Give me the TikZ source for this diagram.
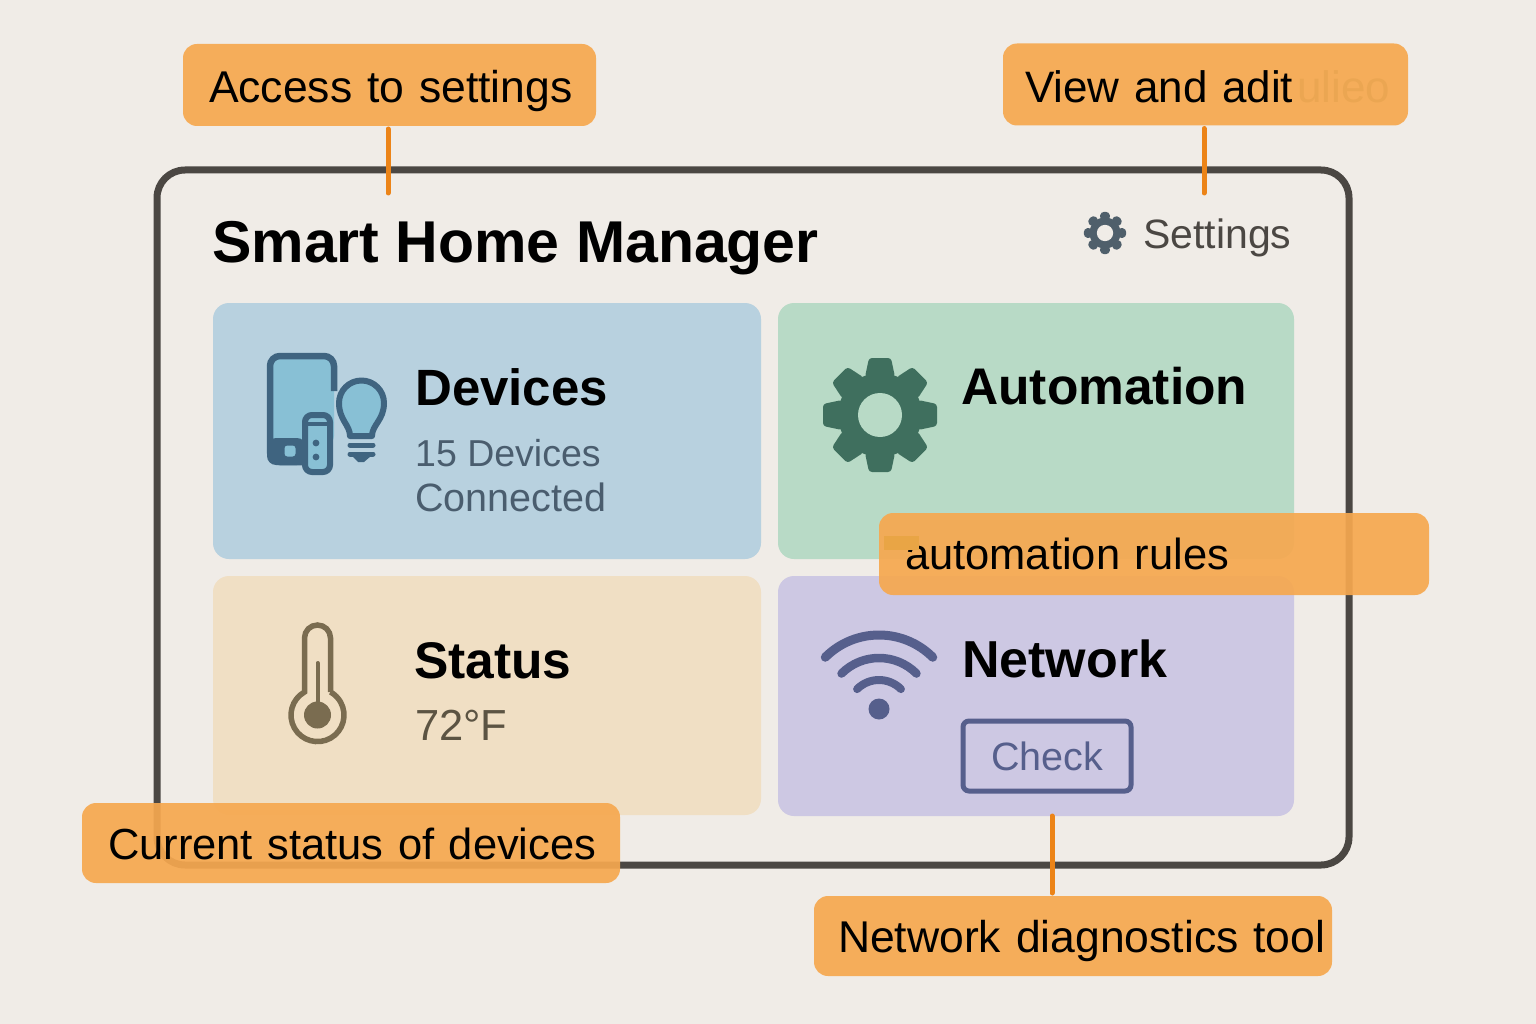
\documentclass[tikz,border=0pt]{standalone}
\usepackage{fontspec}
\setmainfont{Liberation Sans}
\usepackage{xcolor}
\usetikzlibrary{positioning}

\definecolor{paper}{HTML}{F0ECE7}
\definecolor{framegray}{HTML}{4B4743}
\definecolor{calloutfill}{HTML}{F6A84F}
\definecolor{leaderorange}{HTML}{EC8418}
\definecolor{ghostorange}{HTML}{EBA652}
\definecolor{patchorange}{HTML}{E9A545}
\definecolor{devicesfill}{HTML}{B8D1DF}
\definecolor{automationfill}{HTML}{B8DAC6}
\definecolor{statusfill}{HTML}{F0DFC4}
\definecolor{networkfill}{HTML}{CDC8E3}
\definecolor{devicedark}{HTML}{3F6480}
\definecolor{devicelight}{HTML}{88C0D5}
\definecolor{devicetext}{HTML}{4A5D6E}
\definecolor{geargreen}{HTML}{3F6F5E}
\definecolor{geargray}{HTML}{4F5F6B}
\definecolor{thermobrown}{HTML}{7A6C50}
\definecolor{statustext}{HTML}{5C5443}
\definecolor{networkblue}{HTML}{565F8C}

\newcommand{\sz}[1]{\fontsize{#1}{#1}\selectfont}

\tikzset{
  card/.style={fill=#1,rounded corners=16pt,inner sep=0pt,outer sep=0pt,minimum width=548pt},
  callout/.style={fill=calloutfill,fill opacity=.92,text opacity=1,rounded corners=14pt,
    inner ysep=0pt,inner xsep=26pt,outer sep=0pt,minimum height=82pt,
    text height=32pt,text depth=0pt,align=left,font=\sz{44.5},text=black},
  leader/.style={draw=leaderorange,line width=5pt,line cap=round,shorten <=3pt},
  heading/.style={font=\bfseries\sz{51.5},text=black,inner sep=0pt,anchor=base west},
  detail/.style={inner sep=0pt,anchor=base west},
  pics/gearicon/.style 2 args={code={
    \fill[#1] (0,0) circle[radius=42];
    \foreach \a in {0,45,...,315}
      \fill[#1,rotate=\a,rounded corners=3pt] (-15,-38) -- (-11,-57) -- (11,-57) -- (15,-38) -- cycle;
    \fill[#2] (0,0) circle[radius=22];
  }}
}

\begin{document}
\begin{tikzpicture}[x=1pt,y=-1pt]
   \useasboundingbox (0,0) rectangle (1536,1024);
   \fill[paper] (0,0) rectangle (1536,1024);

   % window
   \node[draw=framegray,line width=7pt,rounded corners=28pt,minimum width=1192pt,minimum height=695pt,inner sep=0pt,outer sep=0pt] (frame) at (753,517.5) {};
   \node[inner sep=0pt,anchor=base west,font=\bfseries\sz{59},text=black] (apptitle) at (212,263) {Smart Home Manager};
   \pic[scale=.37] at (1105,233) {gearicon={geargray}{paper}};
   \node[detail,font=\sz{41},text=framegray] (settings) at (1143,249) {Settings};

   % cards
   \node[card=devicesfill,minimum height=256pt] (devices) at (487,431) {};
   \node[card=automationfill,minimum width=516pt,minimum height=256pt] (automation) [right=17pt of devices] {};
   \node[card=statusfill,minimum height=239pt] (status) [below=17pt of devices] {};
   \node[card=networkfill,minimum width=516pt,minimum height=240pt] (network) [below=17pt of automation] {};

   % card labels
   \node[heading,font=\bfseries\sz{51}] (devicestitle) at (415,405) {Devices};
   \node[detail,font=\sz{37.5},text=devicetext] (devicescount) at (415,466) {15 Devices};
   \node[detail,font=\sz{39.5},text=devicetext] (devicesconn) at (415,511) {Connected};
   \node[heading] (automationtitle) at (961,404) {Automation};
   \node[heading] (statustitle) at (414,678) {Status};
   \node[detail,font=\sz{43.5},text=statustext] (statusvalue) at (415,740) {72°F};
   \node[heading,font=\bfseries\sz{52}] (networktitle) at (962,677) {Network};
   \node[draw=networkblue,line width=5pt,rounded corners=6pt,minimum width=168pt,minimum height=70pt,inner sep=0pt,font=\sz{39.5},text=networkblue] (check) at (1047,756) {Check};

   % devices icon
   \fill[devicelight,rounded corners=8pt] (272,358) rectangle (334,444);
   \fill[devicedark,rounded corners=9pt] (267,438) rectangle (306,465);
   \draw[devicedark,line width=6.5pt,rounded corners=10pt] (334,391) -- (334,356) -- (270,356) -- (270,462) -- (304,462);
   \fill[devicelight,rounded corners=3pt] (284.5,445.5) rectangle (295.5,456.5);
   \draw[devicedark,line width=6pt,fill=devicelight,rounded corners=7pt] (305,415) rectangle (330,472);
   \draw[devicedark,line width=4pt] (305,424) -- (330,424);
   \fill[devicedark] (316,443) circle[radius=3.4];
   \fill[devicedark] (316,457) circle[radius=3.4];
   \draw[devicedark,line width=6pt,fill=devicelight,line join=round] (350,436) .. controls (350,425) and (339,420) .. (339,403) arc[start angle=180,end angle=360,radius=22.5] .. controls (384,420) and (372,425) .. (372,436) -- cycle;
   \draw[devicedark,line width=5pt,line cap=round] (350,445) -- (373,445);
   \draw[devicedark,line width=5pt,line cap=round] (350,454) -- (373,454);
   \fill[devicedark] (352,456) -- (371,456) -- (364,462) -- (358,462) -- cycle;

   % automation icon
   \pic at (880,415) {gearicon={geargreen}{automationfill}};

   % status icon
   \draw[thermobrown,line width=5.5pt] (330.5,692) -- (330.5,638) arc[start angle=360,end angle=180,radius=13] -- (304.5,692) arc[start angle=240.6,end angle=-60.6,radius=26.5];
   \fill[thermobrown] (317.5,715) circle[radius=13.5];
   \draw[thermobrown,line width=4pt,line cap=round] (317.5,715) -- (317.5,663);

   % network icon
   \fill[networkblue] (879,709) circle[radius=10.5];
   \foreach \r/\w in {76/9,53/8.5,31/8}
     \draw[networkblue,line width=\w pt,line cap=round] (879,711) ++(-135:\r) arc[start angle=-135,end angle=-45,radius=\r];

   % callouts
   \coordinate (accesstip) at (388,193);
   \coordinate (viewtip) at (1204,193);
   \coordinate (diagtip) at (1052,816);

   \node[callout,text height=36pt,text width=361pt] (access) at (389.5,85) {\mbox{Access to settings}};
   \node[callout,text height=36pt,text width=361pt,inner xsep=22pt,font=\sz{44}] (view) at (1205.5,84.5) {\mbox{View and adit}};
   \node[inner sep=0pt,anchor=base west,font=\sz{44},text=ghostorange] (viewghost) at (1297,103) {ulieo};
   \node[callout,text height=30pt,text width=498pt,font=\sz{43.5}] (rules) at (1154,554) {\mbox{automation rules}};
   \fill[patchorange] (884,536) rectangle (919,550);
   \node[callout,text width=486pt,minimum height=80pt,font=\sz{43.5}] (current) at (351,843) {\mbox{Current status of devices}};
   \node[callout,text width=470pt,inner xsep=24pt,minimum height=80pt] (diag) at (1073,936) {\mbox{Network diagnostics tool}};

   \draw[leader] (access.south -| accesstip) -- (accesstip);
   \draw[leader] (view.south -| viewtip) -- (viewtip);
   \draw[leader] (diag.north -| diagtip) -- (diagtip);
\end{tikzpicture}
\end{document}
